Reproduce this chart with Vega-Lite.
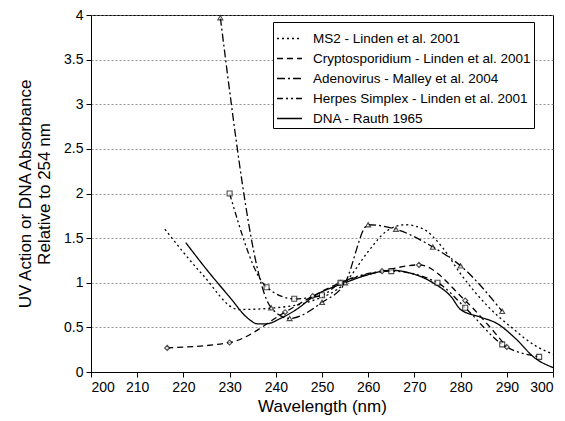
{
  "$schema": "https://vega.github.io/schema/vega-lite/v6.json",
  "autosize": {"type": "none"},
  "padding": {"left": 91, "top": 15, "right": 12, "bottom": 49},
  "width": 462,
  "height": 357,
  "background": "white",
  "config": {
    "font": "Liberation Sans",
    "view": {"stroke": "black", "strokeWidth": 1}
  },
  "datasets": {
    "curves": [
      {"series": "MS2 - Linden et al. 2001", "nm": 216, "v": 1.6},
      {"series": "MS2 - Linden et al. 2001", "nm": 224, "v": 1.1},
      {"series": "MS2 - Linden et al. 2001", "nm": 232, "v": 0.7},
      {"series": "MS2 - Linden et al. 2001", "nm": 240, "v": 0.72},
      {"series": "MS2 - Linden et al. 2001", "nm": 248, "v": 0.8},
      {"series": "MS2 - Linden et al. 2001", "nm": 255, "v": 1.0},
      {"series": "MS2 - Linden et al. 2001", "nm": 260, "v": 1.35},
      {"series": "MS2 - Linden et al. 2001", "nm": 264, "v": 1.58},
      {"series": "MS2 - Linden et al. 2001", "nm": 268, "v": 1.65},
      {"series": "MS2 - Linden et al. 2001", "nm": 272, "v": 1.6},
      {"series": "MS2 - Linden et al. 2001", "nm": 276, "v": 1.4},
      {"series": "MS2 - Linden et al. 2001", "nm": 280, "v": 1.1},
      {"series": "MS2 - Linden et al. 2001", "nm": 286, "v": 0.73},
      {"series": "MS2 - Linden et al. 2001", "nm": 291, "v": 0.5},
      {"series": "MS2 - Linden et al. 2001", "nm": 296, "v": 0.3},
      {"series": "MS2 - Linden et al. 2001", "nm": 300, "v": 0.2},
      {"series": "Cryptosporidium - Linden et al. 2001", "nm": 216.5, "v": 0.27},
      {"series": "Cryptosporidium - Linden et al. 2001", "nm": 230, "v": 0.33},
      {"series": "Cryptosporidium - Linden et al. 2001", "nm": 242, "v": 0.67},
      {"series": "Cryptosporidium - Linden et al. 2001", "nm": 248, "v": 0.85},
      {"series": "Cryptosporidium - Linden et al. 2001", "nm": 254, "v": 1.0},
      {"series": "Cryptosporidium - Linden et al. 2001", "nm": 263, "v": 1.13},
      {"series": "Cryptosporidium - Linden et al. 2001", "nm": 271, "v": 1.2},
      {"series": "Cryptosporidium - Linden et al. 2001", "nm": 281, "v": 0.8},
      {"series": "Cryptosporidium - Linden et al. 2001", "nm": 290, "v": 0.28},
      {"series": "Adenovirus - Malley et al. 2004", "nm": 228, "v": 3.97},
      {"series": "Adenovirus - Malley et al. 2004", "nm": 239, "v": 0.72},
      {"series": "Adenovirus - Malley et al. 2004", "nm": 243, "v": 0.6},
      {"series": "Adenovirus - Malley et al. 2004", "nm": 250, "v": 0.78},
      {"series": "Adenovirus - Malley et al. 2004", "nm": 255, "v": 1.0},
      {"series": "Adenovirus - Malley et al. 2004", "nm": 260, "v": 1.65},
      {"series": "Adenovirus - Malley et al. 2004", "nm": 266, "v": 1.6},
      {"series": "Adenovirus - Malley et al. 2004", "nm": 274, "v": 1.4},
      {"series": "Adenovirus - Malley et al. 2004", "nm": 280, "v": 1.19},
      {"series": "Adenovirus - Malley et al. 2004", "nm": 289, "v": 0.68},
      {"series": "Herpes Simplex - Linden et al. 2001", "nm": 230, "v": 2.0},
      {"series": "Herpes Simplex - Linden et al. 2001", "nm": 238, "v": 0.95},
      {"series": "Herpes Simplex - Linden et al. 2001", "nm": 244, "v": 0.82},
      {"series": "Herpes Simplex - Linden et al. 2001", "nm": 250, "v": 0.86},
      {"series": "Herpes Simplex - Linden et al. 2001", "nm": 254, "v": 1.0},
      {"series": "Herpes Simplex - Linden et al. 2001", "nm": 265, "v": 1.13},
      {"series": "Herpes Simplex - Linden et al. 2001", "nm": 275, "v": 1.0},
      {"series": "Herpes Simplex - Linden et al. 2001", "nm": 281, "v": 0.72},
      {"series": "Herpes Simplex - Linden et al. 2001", "nm": 289, "v": 0.31},
      {"series": "Herpes Simplex - Linden et al. 2001", "nm": 297, "v": 0.17},
      {"series": "DNA - Rauth 1965", "nm": 220.5, "v": 1.45},
      {"series": "DNA - Rauth 1965", "nm": 225, "v": 1.15},
      {"series": "DNA - Rauth 1965", "nm": 230, "v": 0.84},
      {"series": "DNA - Rauth 1965", "nm": 234, "v": 0.6},
      {"series": "DNA - Rauth 1965", "nm": 236, "v": 0.54},
      {"series": "DNA - Rauth 1965", "nm": 238, "v": 0.54},
      {"series": "DNA - Rauth 1965", "nm": 241, "v": 0.6},
      {"series": "DNA - Rauth 1965", "nm": 245, "v": 0.72},
      {"series": "DNA - Rauth 1965", "nm": 248, "v": 0.84},
      {"series": "DNA - Rauth 1965", "nm": 255, "v": 1.0},
      {"series": "DNA - Rauth 1965", "nm": 260, "v": 1.09},
      {"series": "DNA - Rauth 1965", "nm": 265, "v": 1.14},
      {"series": "DNA - Rauth 1965", "nm": 269, "v": 1.11},
      {"series": "DNA - Rauth 1965", "nm": 274, "v": 1.0},
      {"series": "DNA - Rauth 1965", "nm": 278, "v": 0.84},
      {"series": "DNA - Rauth 1965", "nm": 280, "v": 0.7},
      {"series": "DNA - Rauth 1965", "nm": 284, "v": 0.62},
      {"series": "DNA - Rauth 1965", "nm": 288, "v": 0.54},
      {"series": "DNA - Rauth 1965", "nm": 292, "v": 0.37},
      {"series": "DNA - Rauth 1965", "nm": 296, "v": 0.16},
      {"series": "DNA - Rauth 1965", "nm": 300, "v": 0.05}
    ]
  },
  "data": {"name": "curves"},
  "layer": [
    {
      "mark": {"type": "line", "interpolate": "monotone", "color": "black", "strokeWidth": 1.3},
      "encoding": {
        "x": {
          "field": "nm", "type": "quantitative",
          "scale": {"domain": [200, 300], "nice": false},
          "axis": {
            "title": "Wavelength (nm)", "titleFontSize": 17, "titleFontWeight": "normal", "titleColor": "black",
            "titlePadding": 4,
            "values": [200, 210, 220, 230, 240, 250, 260, 270, 280, 290, 300],
            "labelFontSize": 14, "labelColor": "black", "labelPadding": 3,
            "grid": false, "domainColor": "black", "tickColor": "black", "tickSize": 5
          }
        },
        "y": {
          "field": "v", "type": "quantitative",
          "scale": {"domain": [0, 4], "nice": false},
          "axis": {
            "title": ["UV Action or DNA Absorbance", "Relative to 254 nm"],
            "titleFontSize": 17, "titleFontWeight": "normal", "titleColor": "black", "titlePadding": 10,
            "values": [0, 0.5, 1, 1.5, 2, 2.5, 3, 3.5, 4], "format": "~g",
            "labelFontSize": 14, "labelColor": "black", "labelPadding": 3,
            "grid": true, "gridColor": "#777", "gridDash": [2, 2], "gridWidth": 0.8,
            "domainColor": "black", "tickColor": "black", "tickSize": 5
          }
        },
        "detail": {"field": "series"},
        "strokeDash": {
          "field": "series", "type": "nominal",
          "scale": {
            "domain": ["MS2 - Linden et al. 2001", "Cryptosporidium - Linden et al. 2001", "Adenovirus - Malley et al. 2004", "Herpes Simplex - Linden et al. 2001", "DNA - Rauth 1965"],
            "range": [[2, 3], [6, 4], [8, 3, 2, 3], [6, 3, 2, 3, 2, 3], [1, 0]]
          },
          "legend": {
            "title": null, "orient": "none", "legendX": 182, "legendY": 7,
            "symbolType": "stroke", "symbolSize": 625, "symbolStrokeWidth": 1.5, "symbolStrokeColor": "black",
            "labelFontSize": 13.5, "labelColor": "black", "labelOffset": 10, "rowPadding": 0,
            "padding": 3, "strokeColor": "black", "fillColor": "white", "labelLimit": 300
          }
        }
      }
    },
    {
      "transform": [{"filter": "datum.series !== 'MS2 - Linden et al. 2001' && datum.series !== 'DNA - Rauth 1965'"}],
      "mark": {"type": "point", "filled": true, "fill": "white", "stroke": "black", "strokeWidth": 1.1, "size": 25},
      "encoding": {
        "x": {"field": "nm", "type": "quantitative"},
        "y": {"field": "v", "type": "quantitative"},
        "shape": {
          "field": "series", "type": "nominal",
          "scale": {
            "domain": ["Cryptosporidium - Linden et al. 2001", "Adenovirus - Malley et al. 2004", "Herpes Simplex - Linden et al. 2001"],
            "range": ["diamond", "triangle-up", "square"]
          },
          "legend": null
        }
      }
    }
  ]
}
